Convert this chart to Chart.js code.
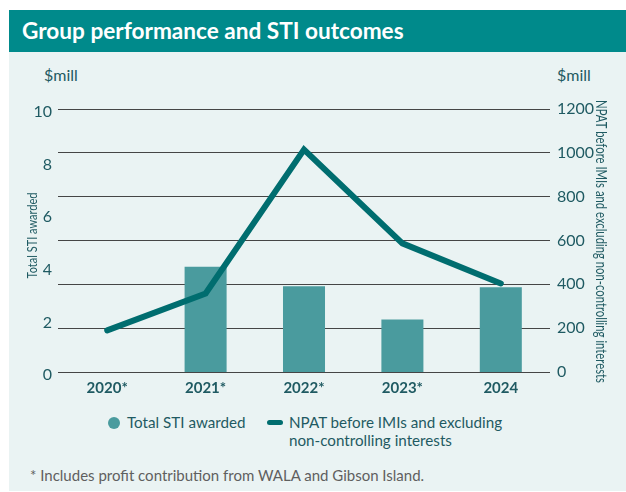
<!DOCTYPE html>
<html>
<head>
<meta charset="utf-8">
<script src="https://cdn.jsdelivr.net/npm/chart.js@4.4.1/dist/chart.umd.min.js"></script>
<style>
  html, body { margin: 0; padding: 0; background: #ffffff; }
  body { width: 626px; height: 492px; position: relative; overflow: hidden; font-family: Lato, "Open Sans", sans-serif; }
  .header { position: absolute; left: 9px; top: 10px; width: 617px; height: 42px; background: #008a8b; }
  .header span { position: absolute; left: 13px; top: 0; line-height: 42px; color: #ffffff; font-weight: bold; font-size: 22.6px; white-space: nowrap; }
  .panel { position: absolute; left: 9px; top: 52px; width: 617px; height: 439px; background: #eaf3f3; }
  .wrap { position: absolute; left: 0; top: 0; width: 626px; height: 492px; }
  .unit { position: absolute; top: 65px; font-size: 16px; color: #1f5a62; line-height: 20px; }
  .legend { position: absolute; top: 413px; font-size: 15.2px; color: #1f5a62; line-height: 18px; white-space: nowrap; }
  .dot { position: absolute; left: 108px; top: 417px; width: 12px; height: 12px; border-radius: 50%; background: #4a9b9e; }
  .dash { position: absolute; left: 267px; top: 420px; width: 16px; height: 5px; border-radius: 3px; background: #006d6f; }
  .foot { position: absolute; left: 30px; top: 465px; font-size: 15px; color: #5f5f5f; line-height: 20px; white-space: nowrap; }
</style>
</head>
<body>
<div class="header"><span>Group performance and STI outcomes</span></div>
<div class="panel"></div>
<div class="unit" style="left:44px;">$mill</div>
<div class="unit" style="left:557px;">$mill</div>
<div class="dot"></div>
<div class="legend" style="left:127px;">Total STI awarded</div>
<div class="dash"></div>
<div class="legend" style="left:289px;">NPAT before IMIs and excluding<br>non-controlling interests</div>
<div class="foot">* Includes profit contribution from WALA and Gibson Island.</div>
<div class="wrap"><canvas id="c" width="626" height="492"></canvas></div>
<script>
const categories = ["2020*", "2021*", "2022*", "2023*", "2024"];
const stiAwarded = [null, 4.0, 3.26, 2.0, 3.22];
const npat = [190, 358, 1015, 587, 404];
const leftTicks = [0, 2, 4, 6, 8, 10];
const rightTicks = [0, 200, 400, 600, 800, 1000, 1200];
const leftTitle = "Total STI awarded";
const rightTitle = "NPAT before IMIs and excluding non-controlling interests";

const textColor = "#1f5a62";
const fontFamily = "Lato, 'Open Sans', sans-serif";

const axisTitles = {
  id: "axisTitles",
  afterDraw(chart) {
    const ctx = chart.ctx;
    const area = chart.chartArea;
    const cy = (area.top + area.bottom) / 2;
    ctx.save();
    ctx.fillStyle = textColor;
    ctx.font = "14px " + fontFamily;
    ctx.textAlign = "center";
    ctx.textBaseline = "middle";
    ctx.translate(32, cy - 5);
    ctx.rotate(-Math.PI / 2);
    ctx.fillText(leftTitle, 0, 0, 86);
    ctx.restore();
    ctx.save();
    ctx.fillStyle = textColor;
    ctx.font = "15px " + fontFamily;
    ctx.textAlign = "center";
    ctx.textBaseline = "middle";
    ctx.translate(601, cy + 1);
    ctx.rotate(Math.PI / 2);
    ctx.fillText(rightTitle, 0, 0, 283);
    ctx.restore();
  }
};

new Chart(document.getElementById("c"), {
  data: {
    labels: categories,
    datasets: [
      {
        type: "line",
        label: "NPAT before IMIs and excluding non-controlling interests",
        data: npat,
        yAxisID: "y1",
        borderColor: "#006d6f",
        backgroundColor: "#006d6f",
        borderWidth: 6,
        borderCapStyle: "round",
        borderJoinStyle: "miter",
        pointRadius: 0,
        pointHoverRadius: 0,
        tension: 0,
        order: 0
      },
      {
        type: "bar",
        label: "Total STI awarded",
        data: stiAwarded,
        yAxisID: "y",
        backgroundColor: "#4a9b9e",
        borderWidth: 0,
        barPercentage: 0.427,
        categoryPercentage: 1.0,
        order: 1
      }
    ]
  },
  plugins: [axisTitles],
  options: {
    responsive: false,
    animation: false,
    layout: { padding: { left: 9, right: 10, top: 109, bottom: 90 } },
    plugins: {
      legend: { display: false },
      title: { display: false },
      tooltip: { enabled: false }
    },
    scales: {
      x: {
        type: "category",
        offset: true,
        grid: { display: false, drawTicks: false },
        border: { display: false },
        ticks: { color: textColor, font: { family: fontFamily, size: 15, weight: "bold" }, padding: 7 },
        afterFit(s) { s.height = 30; }
      },
      y: {
        type: "linear",
        position: "left",
        min: 0,
        max: 10,
        afterBuildTicks(s) { s.ticks = leftTicks.map(v => ({ value: v })); },
        grid: { display: false, drawTicks: false },
        border: { display: false },
        ticks: { color: textColor, font: { family: fontFamily, size: 16 }, padding: 6, labelOffset: 3, callback: v => String(v) },
        afterFit(s) { s.width = 49; }
      },
      y1: {
        type: "linear",
        position: "right",
        min: 0,
        max: 1200,
        afterBuildTicks(s) { s.ticks = rightTicks.map(v => ({ value: v })); },
        grid: { display: true, drawTicks: false, color: "#454545", lineWidth: 1 },
        border: { display: false },
        ticks: { color: textColor, font: { family: fontFamily, size: 16 }, padding: 7, callback: v => String(v) },
        afterFit(s) { s.width = 66; }
      }
    }
  }
});
</script>
</body>
</html>
